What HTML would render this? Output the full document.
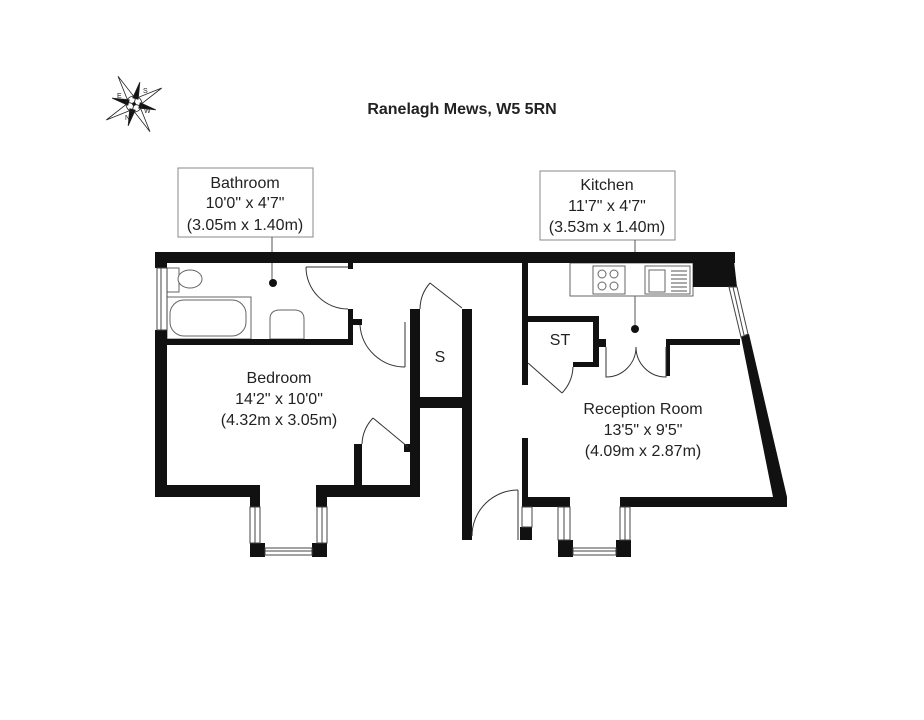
<!DOCTYPE html>
<html><head><style>body{margin:0;background:#fff}svg{display:block}text{font-family:"Liberation Sans",Arial,sans-serif;fill:#222}</style></head><body>
<svg width="924" height="720" viewBox="0 0 924 720" xmlns="http://www.w3.org/2000/svg">
<rect width="924" height="720" fill="#fff"/>
<text x="462" y="114" font-size="16" font-weight="bold" text-anchor="middle">Ranelagh Mews, W5 5RN</text>
<!-- compass -->
<g transform="translate(134,104) rotate(-30)" stroke="#222" stroke-width="0.8">
<polygon points="0,-32 4,-4 0,0 -4,-4" fill="#fff"/><polygon points="0,32 4,4 0,0 -4,4" fill="#fff"/>
<polygon points="-32,0 -4,4 0,0 -4,-4" fill="#fff"/><polygon points="32,0 4,4 0,0 4,-4" fill="#fff"/>
<g fill="#111"><polygon points="-16,-16 -2,-6 -6,-2"/><polygon points="16,-16 2,-6 6,-2"/><polygon points="-16,16 -2,6 -6,2"/><polygon points="16,16 2,6 6,2"/></g>
<circle r="8" fill="none"/><circle r="1.5" fill="#111"/>
</g>
<text x="117" y="98" font-size="7">E</text><text x="143" y="93" font-size="7">S</text><text x="125" y="120" font-size="7">N</text><text x="144" y="113" font-size="7">W</text>
<!-- labels -->
<rect x="178" y="168" width="135" height="69" fill="#fff" stroke="#888"/>
<text font-size="16" text-anchor="middle"><tspan x="245" y="188">Bathroom</tspan><tspan x="245" y="208">10'0" x 4'7"</tspan><tspan x="245" y="230">(3.05m x 1.40m)</tspan></text>
<line x1="272" y1="237" x2="272" y2="282" stroke="#555"/><circle cx="273" cy="283" r="4" fill="#111"/>
<rect x="540" y="171" width="135" height="69" fill="#fff" stroke="#888"/>
<text font-size="16" text-anchor="middle"><tspan x="607" y="190">Kitchen</tspan><tspan x="607" y="211">11'7" x 4'7"</tspan><tspan x="607" y="232">(3.53m x 1.40m)</tspan></text>
<line x1="635" y1="240" x2="635" y2="329" stroke="#555"/><circle cx="635" cy="329" r="4" fill="#111"/>
<!-- fixtures -->
<g fill="#fff" stroke="#666" stroke-width="1">
<rect x="167" y="297" width="84" height="42"/><rect x="170" y="300" width="76" height="36" rx="14"/>
<rect x="167" y="268" width="12" height="24"/><ellipse cx="190" cy="279" rx="12" ry="9"/>
<path d="M270 339 v-20 q0 -9 10 -9 h14 q10 0 10 9 v20z"/>
<rect x="570" y="263" width="123" height="33"/>
<rect x="593" y="266" width="32" height="28"/><circle cx="602" cy="274" r="4"/><circle cx="614" cy="274" r="4"/><circle cx="602" cy="286" r="4"/><circle cx="614" cy="286" r="4"/>
<rect x="645" y="266" width="45" height="28"/><rect x="649" y="270" width="16" height="22"/>
</g>
<g stroke="#555" stroke-width="1"><line x1="671" y1="271" x2="687" y2="271"/><line x1="671" y1="275" x2="687" y2="275"/><line x1="671" y1="279" x2="687" y2="279"/><line x1="671" y1="283" x2="687" y2="283"/><line x1="671" y1="287" x2="687" y2="287"/><line x1="671" y1="291" x2="687" y2="291"/></g>
<!-- walls -->
<g fill="#111">
<rect x="155" y="252" width="580" height="11"/>
<polygon points="693,263 733,252 737,287 693,287"/>
<rect x="155" y="252" width="12" height="16"/><rect x="155" y="330" width="12" height="167"/>
<rect x="155" y="485" width="105" height="12"/><rect x="250" y="485" width="10" height="22"/>
<rect x="316" y="485" width="104" height="12"/><rect x="316" y="485" width="11" height="22"/>
<rect x="250" y="543" width="15" height="14"/><rect x="312" y="543" width="15" height="14"/>
<rect x="167" y="339" width="186" height="6"/><rect x="348" y="262" width="5" height="7"/><rect x="348" y="309" width="5" height="36"/><rect x="353" y="319" width="9" height="6"/>
<rect x="410" y="309" width="10" height="188"/><rect x="462" y="309" width="10" height="231"/><rect x="415" y="397" width="57" height="11"/>
<rect x="354" y="444" width="8" height="43"/><rect x="404" y="444" width="6" height="8"/>
<rect x="522" y="263" width="6" height="122"/><rect x="522" y="438" width="6" height="69"/>
<rect x="528" y="316" width="71" height="6"/><rect x="593" y="316" width="6" height="51"/><rect x="573" y="362" width="26" height="5"/><rect x="599" y="339" width="7" height="8"/>
<rect x="668" y="339" width="72" height="6"/><rect x="666" y="339" width="4" height="37"/>
<polygon points="741,337 749,334 787,497 787,507 775,507"/>
<rect x="522" y="497" width="47" height="10"/><rect x="620" y="497" width="167" height="10"/>
<rect x="520" y="527" width="12" height="13"/><rect x="558" y="497" width="12" height="10"/><rect x="620" y="497" width="10" height="10"/>
<rect x="558" y="540" width="15" height="17"/><rect x="616" y="540" width="15" height="17"/>
</g>
<!-- windows -->
<g fill="#fff" stroke="#444" stroke-width="1">
<rect x="157" y="268" width="10" height="62"/><line x1="161" y1="268" x2="161" y2="330"/>
<rect x="250" y="507" width="10" height="36"/><line x1="255" y1="507" x2="255" y2="543"/>
<rect x="317" y="507" width="10" height="36"/><line x1="322" y1="507" x2="322" y2="543"/>
<rect x="265" y="548" width="47" height="7"/><line x1="265" y1="551" x2="312" y2="551"/>
<rect x="558" y="507" width="12" height="33"/><line x1="564" y1="507" x2="564" y2="540"/>
<rect x="620" y="507" width="10" height="33"/><line x1="625" y1="507" x2="625" y2="540"/>
<rect x="573" y="548" width="43" height="7"/><line x1="573" y1="551" x2="616" y2="551"/>
<rect x="522" y="507" width="10" height="20"/>
<polygon points="729,287 737,287 748,334 741,337"/><line x1="733" y1="287" x2="744" y2="335"/>
</g>
<!-- doors -->
<g fill="none" stroke="#333" stroke-width="1">
<line x1="306" y1="267" x2="348" y2="267"/><path d="M306 267 A42 42 0 0 0 348 309"/>
<line x1="405" y1="322" x2="405" y2="367"/><path d="M360 325 A45 45 0 0 0 405 367"/>
<line x1="430" y1="283" x2="462" y2="308"/><path d="M430 283 A40 40 0 0 0 420 309"/>
<line x1="373" y1="418" x2="408" y2="447"/><path d="M373 418 A40 40 0 0 0 362 444"/>
<line x1="528" y1="363" x2="562" y2="393"/><path d="M562 393 A40 40 0 0 0 573 367"/>
<path d="M606 347 v30 A30 30 0 0 0 636 347"/><path d="M666 347 v30 A30 30 0 0 1 636 347"/>
<line x1="518" y1="490" x2="518" y2="540"/><path d="M518 490 A46 46 0 0 0 472 536"/>
</g>
<!-- room labels -->
<text font-size="16" text-anchor="middle"><tspan x="279" y="383">Bedroom</tspan><tspan x="279" y="404">14'2" x 10'0"</tspan><tspan x="279" y="425">(4.32m x 3.05m)</tspan></text>
<text x="440" y="362" font-size="16" text-anchor="middle">S</text>
<text x="560" y="345" font-size="16" text-anchor="middle">ST</text>
<text font-size="16" text-anchor="middle"><tspan x="643" y="414">Reception Room</tspan><tspan x="643" y="435">13'5" x 9'5"</tspan><tspan x="643" y="456">(4.09m x 2.87m)</tspan></text>
</svg>
</body></html>
